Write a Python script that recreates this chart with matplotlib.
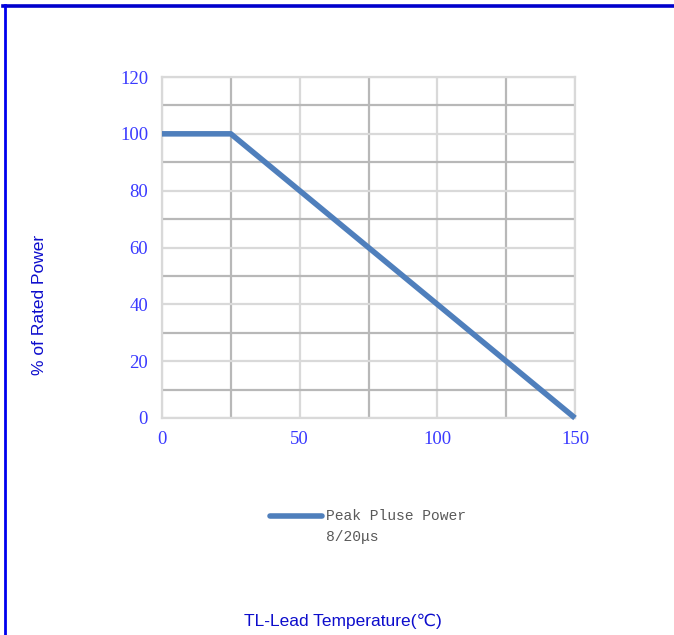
import matplotlib.pyplot as plt
from matplotlib.lines import Line2D
from matplotlib.ticker import MultipleLocator

# data
temp = [0, 25, 150]
power = [100, 100, 0]
x_ticks = [0, 50, 100, 150]
y_ticks = [0, 20, 40, 60, 80, 100, 120]
legend_label = 'Peak Pluse Power'
legend_sub = '8/20\u03bcs'

W, H = 674, 635
fig = plt.figure(figsize=(W / 100, H / 100), dpi=100)
ax = fig.add_axes([162 / W, 1 - 418 / H, (575 - 162) / W, (418 - 77) / H])

line_color = '#4f7fbc'
tick_color = '#3a3aff'
label_color = '#0d0dcc'

ax.plot(temp, power, color=line_color, lw=4.0, solid_capstyle='butt', clip_on=False, zorder=3)

ax.set_xlim(0, 150)
ax.set_ylim(0, 120)
ax.set_xticks(x_ticks)
ax.set_yticks(y_ticks)
ax.xaxis.set_minor_locator(MultipleLocator(25))
ax.yaxis.set_minor_locator(MultipleLocator(10))
ax.grid(which='major', color='#d9d9d9', lw=1.6)
ax.grid(which='minor', color='#b8b8b8', lw=1.6)
ax.set_axisbelow(True)
for s in ax.spines.values():
    s.set_color('#d9d9d9')
    s.set_linewidth(1.6)

serif = ['Liberation Serif', 'DejaVu Serif']
ax.tick_params(which='both', length=0)
ax.tick_params(axis='y', pad=10)
ax.tick_params(axis='x', pad=9)
for t in ax.get_xticklabels() + ax.get_yticklabels():
    t.set_fontfamily(serif)
    t.set_fontsize(13.5)
    t.set_color(tick_color)

sans = ['Liberation Sans', 'DejaVu Sans']
fig.text(40 / W, 1 - 305 / H, '% of Rated Power', rotation=90, ha='center', va='center',
         family=sans, fontsize=12.5, color=label_color)
fig.text(343 / W, 1 - 621 / H, 'TL-Lead Temperature(\u2103)', ha='center', va='center',
         family=sans, fontsize=12.5, color=label_color)

# legend
fig.add_artist(Line2D([270 / W, 322 / W], [1 - 516 / H, 1 - 516 / H], color=line_color,
                      lw=4.0, solid_capstyle='round'))
mono = ['Liberation Mono', 'DejaVu Sans Mono']
fig.text(326 / W, 1 - 516 / H, legend_label, ha='left', va='center', family=mono,
         fontsize=10.5, color='#595959')
fig.text(326 / W, 1 - 537 / H, legend_sub, ha='left', va='center', family=mono,
         fontsize=10.5, color='#595959')

# frame lines along top and left edge
fig.add_artist(Line2D([3 / W, 1], [1 - 5.5 / H, 1 - 5.5 / H], color='#0000cc', lw=2.6))
fig.add_artist(Line2D([4.5 / W, 4.5 / W], [0, 1 - 5 / H], color='#0000ee', lw=2.0))

fig.savefig('out.png', dpi=100)
